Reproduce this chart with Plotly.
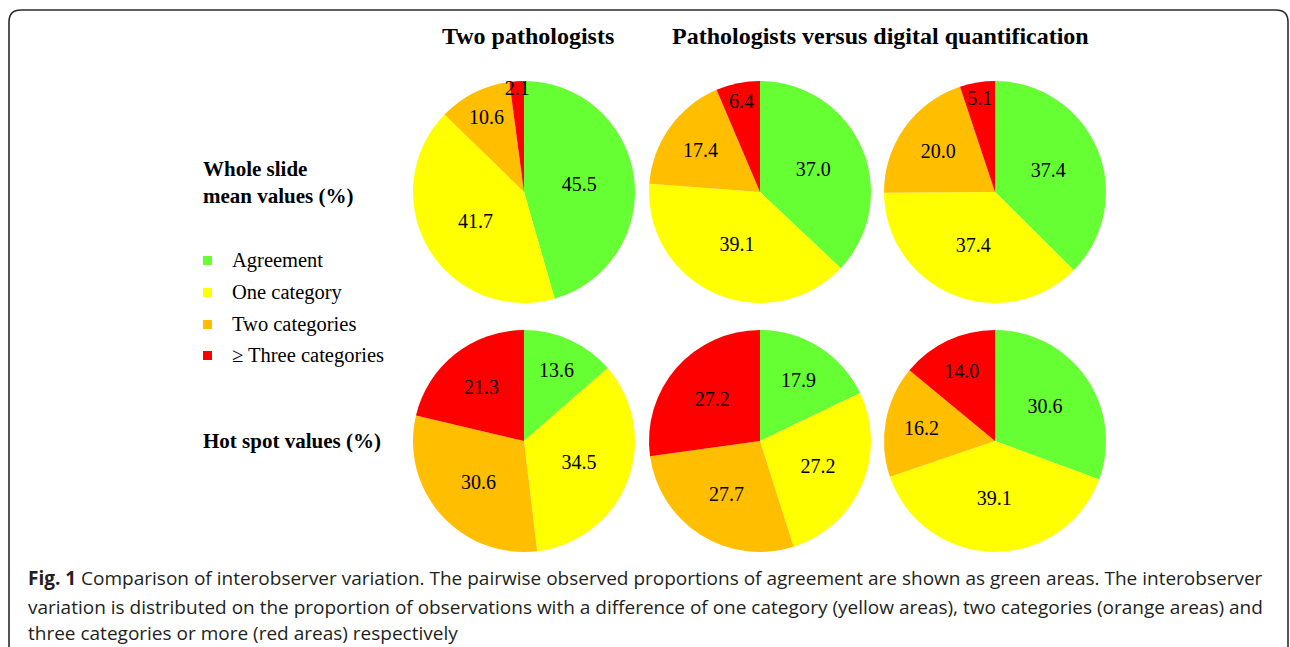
import plotly.graph_objects as go

W, H = 1290, 647

categories = ["Agreement", "One category", "Two categories", "\u2265 Three categories"]
colors = ["#66FF33", "#FFFF00", "#FFBF00", "#FF0000"]

whole_two_pathologists = [45.5, 41.7, 10.6, 2.1]
whole_vs_digital_a = [37.0, 39.1, 17.4, 6.4]
whole_vs_digital_b = [37.4, 37.4, 20.0, 5.1]
hot_two_pathologists = [13.6, 34.5, 30.6, 21.3]
hot_vs_digital_a = [17.9, 27.2, 27.7, 27.2]
hot_vs_digital_b = [30.6, 39.1, 16.2, 14.0]

col_titles = ["Two pathologists", "Pathologists versus digital quantification"]
row_titles = ["Whole slide<br>mean values (%)", "Hot spot values (%)"]
caption_lines = [
    "<b>Fig. 1</b> Comparison of interobserver variation. The pairwise observed proportions of agreement are shown as green areas. The interobserver",
    "variation is distributed on the proportion of observations with a difference of one category (yellow areas), two categories (orange areas) and",
    "three categories or more (red areas) respectively",
]

# layout geometry (pixels)
centers_x = [524, 760, 995]
centers_y = [192, 441]
R = 111

def px_x(x):
    return x / W

def px_y(y):
    return 1 - y / H

series = [
    [whole_two_pathologists, whole_vs_digital_a, whole_vs_digital_b],
    [hot_two_pathologists, hot_vs_digital_a, hot_vs_digital_b],
]

fig = go.Figure()
for r, row in enumerate(series):
    for c, vals in enumerate(row):
        cx, cy = centers_x[c], centers_y[r]
        fig.add_trace(go.Pie(
            labels=categories,
            values=vals,
            marker=dict(colors=colors, line=dict(width=0)),
            sort=False,
            direction="clockwise",
            rotation=0,
            texttemplate="%{value:.1f}",
            textposition="inside",
            insidetextorientation="horizontal",
            textfont=dict(family="Liberation Serif", size=20, color="black"),
            domain=dict(x=[px_x(cx - R), px_x(cx + R)], y=[px_y(cy + R), px_y(cy - R)]),
            showlegend=False,
            hoverinfo="label+value",
        ))

annotations = []
# column titles
annotations.append(dict(text="<b>" + col_titles[0] + "</b>", x=px_x(528), y=px_y(36),
                        xref="paper", yref="paper", showarrow=False, xanchor="center", yanchor="middle",
                        font=dict(family="Liberation Serif", size=24, color="black")))
annotations.append(dict(text="<b>" + col_titles[1] + "</b>", x=px_x(880), y=px_y(36),
                        xref="paper", yref="paper", showarrow=False, xanchor="center", yanchor="middle",
                        font=dict(family="Liberation Serif", size=24, color="black")))
# row titles
annotations.append(dict(text="<b>" + row_titles[0] + "</b>", x=px_x(201), y=px_y(182),
                        xref="paper", yref="paper", showarrow=False, xanchor="left", yanchor="middle",
                        align="left", font=dict(family="Liberation Serif", size=21, color="black")))
annotations.append(dict(text="<b>" + row_titles[1] + "</b>", x=px_x(201), y=px_y(441),
                        xref="paper", yref="paper", showarrow=False, xanchor="left", yanchor="middle",
                        align="left", font=dict(family="Liberation Serif", size=21, color="black")))

shapes = []
# legend
legend_y = [260, 292, 324, 355]
for lab, col, ly in zip(categories, colors, legend_y):
    shapes.append(dict(type="rect", xref="paper", yref="paper",
                       x0=px_x(203), x1=px_x(212), y0=px_y(ly + 5), y1=px_y(ly - 4),
                       fillcolor=col, line=dict(width=0)))
    annotations.append(dict(text=lab, x=px_x(230), y=px_y(ly), xref="paper", yref="paper",
                            showarrow=False, xanchor="left", yanchor="middle",
                            font=dict(family="Liberation Serif", size=20.5, color="black")))

# caption
for line, ly in zip(caption_lines, [578, 607, 633]):
    annotations.append(dict(text=line, x=px_x(26), y=px_y(ly), xref="paper", yref="paper",
                            showarrow=False, xanchor="left", yanchor="middle",
                            font=dict(family="Open Sans", size=19, color="#231f20")))

# rounded frame
x0, x1, y0, y1, rr = 9, 1288, 10, 660, 12
path = (f"M {px_x(x0)},{px_y(y1)} L {px_x(x0)},{px_y(y0 + rr)} "
        f"Q {px_x(x0)},{px_y(y0)} {px_x(x0 + rr)},{px_y(y0)} "
        f"L {px_x(x1 - rr)},{px_y(y0)} Q {px_x(x1)},{px_y(y0)} {px_x(x1)},{px_y(y0 + rr)} "
        f"L {px_x(x1)},{px_y(y1)}")
shapes.append(dict(type="path", xref="paper", yref="paper", path=path,
                   line=dict(color="#2b2b2b", width=1.6)))

fig.update_layout(
    width=W, height=H,
    margin=dict(l=0, r=0, t=0, b=0),
    paper_bgcolor="white", plot_bgcolor="white",
    annotations=annotations, shapes=shapes,
    uniformtext=dict(minsize=20, mode="show"),
    showlegend=False,
)

fig.write_html("out.html",
               config={"displayModeBar": False},
               post_script="document.body.style.margin='0px';document.body.style.overflow='hidden';")
